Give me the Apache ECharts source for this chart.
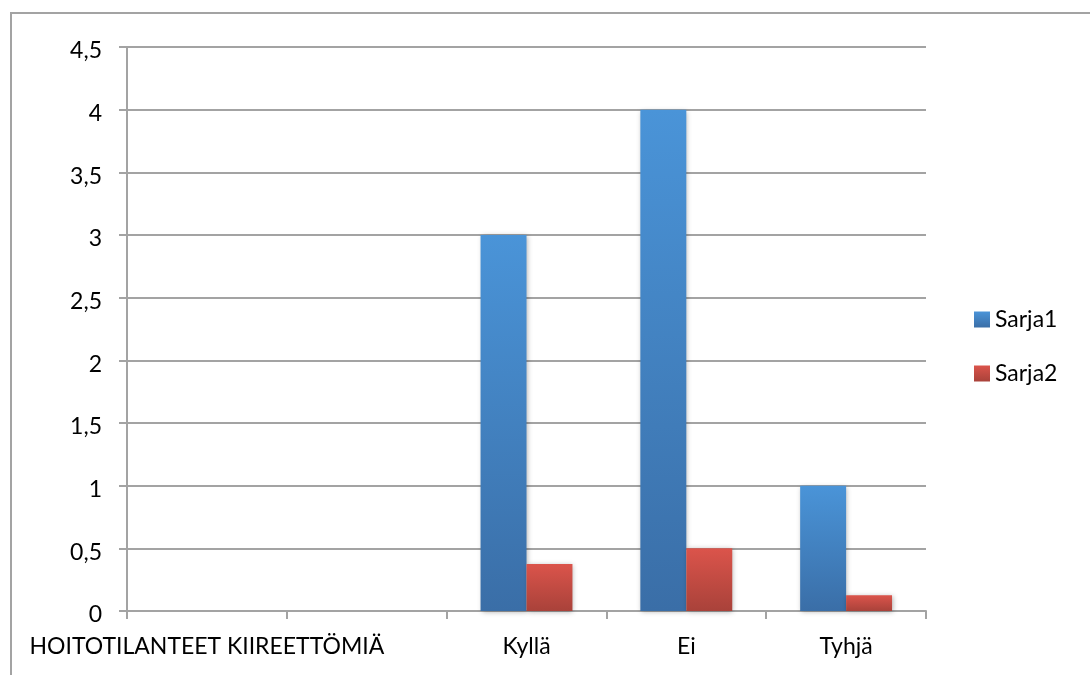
<!DOCTYPE html>
<html>
<head>
<meta charset="utf-8">
<script src="https://cdn.jsdelivr.net/npm/echarts@6/dist/echarts.min.js"></script>
<style>
html,body{margin:0;padding:0;background:#fff;}
#chart{width:1090px;height:675px;}
</style>
</head>
<body>
<div id="chart"></div>
<script>
const categories = ['HOITOTILANTEET KIIREETTÖMIÄ', '', 'Kyllä', 'Ei', 'Tyhjä'];
const sarja1 = [null, null, 3, 4, 1];
const sarja2 = [null, null, 0.375, 0.5, 0.125];
const seriesNames = ['Sarja1', 'Sarja2'];
const yTicks = { min: 0, max: 4.5, interval: 0.5 };

const FONT = 'Lato';
const chart = echarts.init(document.getElementById('chart'));

function grad(top, bottom) {
  return new echarts.graphic.LinearGradient(0, 0, 0, 1, [
    { offset: 0, color: top },
    { offset: 1, color: bottom }
  ]);
}
const blue = grad('#4a94d8', '#3a6ea7');
const red = grad('#db544b', '#a9423a');
const shadow = { shadowBlur: 5, shadowColor: 'rgba(0,0,0,0.3)', shadowOffsetX: 1, shadowOffsetY: 1 };

chart.setOption({
  animation: false,
  backgroundColor: '#fff',
  textStyle: { fontFamily: FONT },
  graphic: [{
    type: 'rect',
    shape: { x: 11, y: 13, width: 1200, height: 800 },
    style: { fill: 'none', stroke: '#a3a3a3', lineWidth: 2 },
    silent: true
  }],
  grid: { left: 127, right: 164, top: 47, bottom: 64, containLabel: false },
  legend: {
    orient: 'vertical',
    left: 974,
    top: 308,
    padding: 0,
    itemWidth: 16,
    itemHeight: 16,
    itemGap: 31,
    icon: 'rect',
    textStyle: { fontFamily: FONT, fontSize: 23, color: '#000', lineHeight: 23 },
    data: seriesNames
  },
  xAxis: {
    type: 'category',
    data: categories,
    axisLine: { lineStyle: { color: '#a3a3a3', width: 2 } },
    axisTick: { show: true, length: 8, lineStyle: { color: '#a3a3a3', width: 2 } },
    axisLabel: { interval: 0, color: '#000', fontFamily: FONT, fontSize: 23, margin: 24 }
  },
  yAxis: {
    type: 'value',
    min: yTicks.min,
    max: yTicks.max,
    interval: yTicks.interval,
    axisLine: { show: true, lineStyle: { color: '#a3a3a3', width: 2 } },
    axisTick: { show: true, length: 8, lineStyle: { color: '#a3a3a3', width: 2 } },
    splitLine: { show: true, lineStyle: { color: '#a3a3a3', width: 2 } },
    axisLabel: {
      color: '#000', fontFamily: FONT, fontSize: 23, margin: 25,
      formatter: v => '{n|' + String(v).replace('.', ',') + '}',
      rich: { n: { fontFamily: FONT, fontSize: 23, color: '#000', lineHeight: 23, padding: [8, 0, 0, 0] } }
    }
  },
  series: [
    {
      name: seriesNames[0], type: 'bar', data: sarja1,
      barGap: '0%', barCategoryGap: '42.5%',
      itemStyle: Object.assign({ color: blue }, shadow)
    },
    {
      name: seriesNames[1], type: 'bar', data: sarja2,
      barGap: '0%', barCategoryGap: '42.5%',
      itemStyle: Object.assign({ color: red }, shadow)
    }
  ]
});
</script>
</body>
</html>
